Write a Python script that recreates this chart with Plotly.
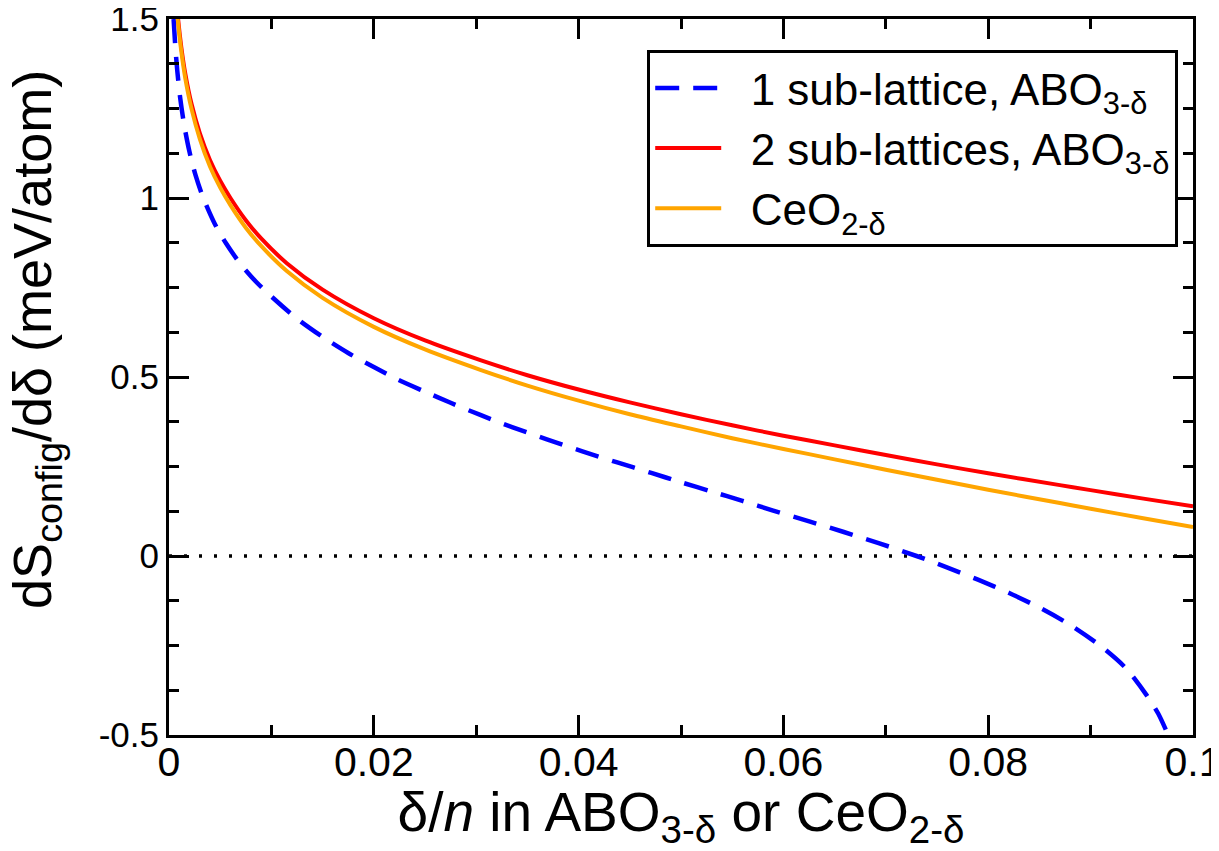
import plotly.graph_objects as go

# ---- data ----
one_sub_x = [0.00045, 0.0006, 0.0008, 0.0011, 0.0015, 0.0020, 0.0026, 0.00335, 0.0045, 0.0056,
             0.0070, 0.0085, 0.0100, 0.0125, 0.0150, 0.0175, 0.0200, 0.0224, 0.0250, 0.0275,
             0.0304, 0.0335, 0.0369, 0.0403, 0.0437, 0.0471, 0.0500, 0.0530, 0.0560, 0.0590,
             0.0626, 0.0659, 0.0693, 0.0730, 0.0759, 0.0790, 0.0821, 0.0852, 0.0882, 0.0910,
             0.0935, 0.0955, 0.0966, 0.0975, 0.0982]
one_sub_y = [1.500, 1.430, 1.358, 1.278, 1.201, 1.129, 1.063, 1.000, 0.926, 0.872,
             0.815, 0.766, 0.725, 0.663, 0.612, 0.567, 0.528, 0.492, 0.459, 0.428,
             0.394, 0.360, 0.326, 0.293, 0.262, 0.232, 0.206, 0.180, 0.154, 0.127,
             0.096, 0.067, 0.036, 0.000, -0.031, -0.066, -0.104, -0.147, -0.196, -0.252,
             -0.315, -0.390, -0.440, -0.495, -0.540]

two_sub_x = [0.0007, 0.0009, 0.0012, 0.0016, 0.0022, 0.0030, 0.0040, 0.0050, 0.0060, 0.0075,
             0.0090, 0.0115, 0.0150, 0.0200, 0.0250, 0.0304, 0.0350, 0.0400, 0.0450, 0.0500,
             0.0550, 0.0600, 0.0650, 0.0700, 0.0750, 0.0800, 0.0870, 0.0900, 0.0950, 0.1000]
two_sub_y = [1.563, 1.497, 1.422, 1.346, 1.263, 1.182, 1.106, 1.048, 1.000, 0.938,
             0.887, 0.818, 0.744, 0.664, 0.602, 0.547, 0.505, 0.465, 0.429, 0.396,
             0.365, 0.336, 0.309, 0.282, 0.256, 0.231, 0.198, 0.184, 0.161, 0.139]

ceo2_x = [0.0007, 0.0009, 0.0012, 0.0016, 0.0022, 0.0030, 0.0040, 0.0050, 0.0060, 0.0075,
          0.0090, 0.0115, 0.0150, 0.0200, 0.0250, 0.0304, 0.0350, 0.0400, 0.0450, 0.0500,
          0.0550, 0.0600, 0.0650, 0.0700, 0.0750, 0.0800, 0.0870, 0.0900, 0.0950, 0.1000]
ceo2_y = [1.550, 1.485, 1.410, 1.333, 1.249, 1.166, 1.088, 1.029, 0.980, 0.917,
          0.866, 0.796, 0.721, 0.640, 0.577, 0.520, 0.476, 0.434, 0.396, 0.362,
          0.329, 0.299, 0.270, 0.241, 0.213, 0.185, 0.148, 0.132, 0.106, 0.081]

zero_x = [0.0, 0.1]
zero_y = [0.0, 0.0]

series_names = ["1 sub-lattice, ABO<sub>3-δ</sub>",
                "2 sub-lattices, ABO<sub>3-δ</sub>",
                "CeO<sub>2-δ</sub>"]

x_tickvals = [0, 0.02, 0.04, 0.06, 0.08, 0.1]
x_ticktext = ["0", "0.02", "0.04", "0.06", "0.08", "0.1"]
y_tickvals = [-0.5, 0, 0.5, 1, 1.5]
y_ticktext = ["-0.5", "0", "0.5", "1", "1.5"]

x_title = "δ/<i>n</i> in ABO<sub>3-δ</sub> or CeO<sub>2-δ</sub>"
y_title = "dS<sub>config</sub>/dδ (meV/atom)"

FONT = "Liberation Sans, Arial, Helvetica, sans-serif"
PAD = "\u00a0\u00a0"  # gap between legend sample line and label

fig = go.Figure()
fig.add_trace(go.Scatter(x=zero_x, y=zero_y, mode="lines",
                         line=dict(color="black", width=3.5, dash="3px,12px"),
                         showlegend=False, hoverinfo="skip"))
fig.add_trace(go.Scatter(x=one_sub_x, y=one_sub_y, mode="lines", name=PAD + series_names[0],
                         legendgroup="a",
                         line=dict(color="#0000FF", width=4.5, dash="24px,14px",
                                   shape="spline", smoothing=0.8)))
fig.add_trace(go.Scatter(x=two_sub_x, y=two_sub_y, mode="lines", name=PAD + series_names[1],
                         legendgroup="b",
                         line=dict(color="#FF0000", width=4, shape="spline", smoothing=0.8)))
fig.add_trace(go.Scatter(x=ceo2_x, y=ceo2_y, mode="lines", name=PAD + series_names[2],
                         legendgroup="c",
                         line=dict(color="#FFA500", width=4, shape="spline", smoothing=0.8)))

axis_common = dict(showline=True, linecolor="black", linewidth=3, mirror="ticks",
                   ticks="inside", tickcolor="black", tickwidth=3, ticklen=20,
                   showgrid=False, zeroline=False, ticklabeloverflow="allow")

fig.update_xaxes(range=[0, 0.1], tickvals=x_tickvals, ticktext=x_ticktext,
                 tickfont=dict(family=FONT, size=41, color="black"),
                 ticklabelstandoff=-11,
                 minor=dict(ticks="inside", ticklen=10, tickwidth=3, tickcolor="black",
                            dtick=0.01, tick0=0, showgrid=False),
                 title=dict(text=x_title,
                            font=dict(family=FONT, size=55, color="black"), standoff=6),
                 **axis_common)
fig.update_yaxes(range=[-0.5, 1.5], tickvals=y_tickvals, ticktext=y_ticktext,
                 tickfont=dict(family=FONT, size=35, color="black"),
                 minor=dict(ticks="inside", ticklen=10, tickwidth=3, tickcolor="black",
                            dtick=0.125, tick0=0, showgrid=False),
                 **axis_common)

# y-axis title placed as a rotated annotation (paper coordinates)
fig.add_annotation(text=y_title, xref="paper", yref="paper",
                   x=-0.130, y=0.553, xanchor="center", yanchor="middle",
                   textangle=-90, showarrow=False,
                   font=dict(family=FONT, size=54, color="black"))

fig.update_layout(
    width=1211, height=843,
    margin=dict(l=161, r=26, t=11, b=116, autoexpand=False),
    plot_bgcolor="white", paper_bgcolor="white",
    font=dict(family=FONT, color="black"),
    legend=dict(x=0.467, y=0.957, xanchor="left", yanchor="top",
                bgcolor="white", bordercolor="black", borderwidth=3,
                font=dict(family=FONT, size=44, color="black"),
                tracegroupgap=0, itemwidth=66),
)

fig.write_html("out.html")
